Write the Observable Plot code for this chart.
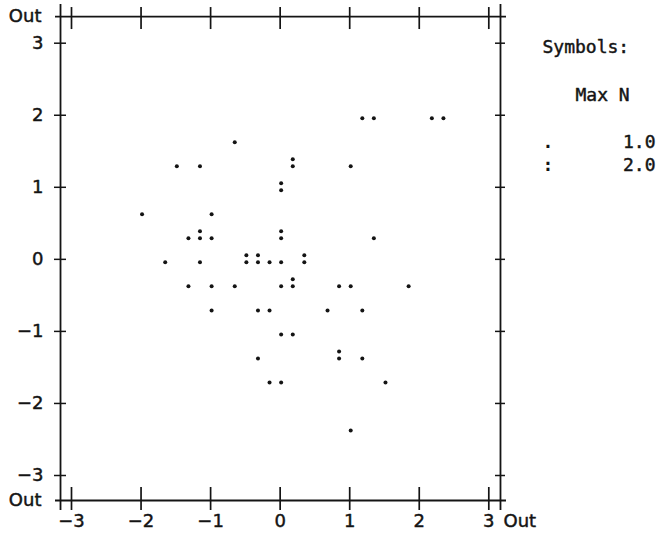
<!DOCTYPE html>
<html>
<head>
<meta charset="utf-8">
<script src="https://cdn.jsdelivr.net/npm/d3@7"></script>
<script src="https://cdn.jsdelivr.net/npm/@observablehq/plot@0.6"></script>
<style>
  html, body { margin: 0; padding: 0; background: #fff; }
</style>
</head>
<body>
<div id="chart"></div>
<script>
// ---- data ----
const px = [-0.667, -1.5, -1.167, 0.167, 0, -2, -1, -1.167, -1.333, -1, 0, -0.5, -0.333, -0.167, 0, 0.333, -1.667, -1.167,
            0.167, 0, -1.333, -1, -0.667, -1, -0.333, -0.167, 1.333, 0.833, 1, 1.833, 0.667, 1.167, 0, 0.167, -0.333,
            0.833, 1.167, -0.167, 0, 1.5, 1, 1.167, 1.333, 2.167, 2.333, 1];
const py = [1.667, 1.333, 1.333, 1.333, 1.0, 0.667, 0.667, 0.333, 0.333, 0.333, 0.333, 0, 0, 0, 0, 0, 0, 0,
            -0.333, -0.333, -0.333, -0.333, -0.333, -0.667, -0.667, -0.667, 0.333, -0.333, -0.333, -0.333, -0.667, -0.667, -1, -1, -1.333,
            -1.333, -1.333, -1.667, -1.667, -1.667, -2.333, 2, 2, 2, 2, 1.333];
const pn = [1, 1, 1, 2, 2, 1, 1, 2, 1, 1, 2, 2, 2, 1, 1, 2, 1, 1,
            2, 1, 1, 1, 1, 1, 1, 1, 1, 1, 1, 1, 1, 1, 1, 1, 1,
            2, 1, 1, 1, 1, 1, 1, 1, 1, 1, 1];

const xTicks = [-3, -2, -1, 0, 1, 2, 3];
const yTicks = [-3, -2, -1, 0, 1, 2, 3];
const tickLabels = ["\u22123", "\u22122", "\u22121", "0", "1", "2", "3"];
const xOut = [-3.158, 3.168];   // "Out" positions of the horizontal axis
const yOut = [-3.347, 3.37];    // "Out" positions of the vertical axis
const outLabel = "Out";

const legendTitle = "Symbols:";
const legendHeader = "Max N";
const legendSymbols = [".", ":"];
const legendValues = ["1.0", "2.0"];

// ---- build ----
const points = px.map((x, i) => ({x, y: py[i], n: pn[i]}));
const ink = "#141414";
const axisFont = "DejaVu Sans";
const monoFont = "DejaVu Sans Mono";
const legendRowDy = [92.3, 115.3];
const heavy = {stroke: ink, strokeWidth: 0.45};

const legendMarks = [
  Plot.text([legendTitle], {frameAnchor: "top-right", text: d => d, dx: 53.7, dy: -2.7, textAnchor: "start", fontFamily: monoFont, fontSize: 18, fill: ink, ...heavy}),
  Plot.text([legendHeader], {frameAnchor: "top-right", text: d => d, dx: 86.7, dy: 45.3, textAnchor: "start", fontFamily: monoFont, fontSize: 18, fill: ink, ...heavy})
];
legendValues.forEach((v, i) => {
  legendMarks.push(Plot.text([v], {frameAnchor: "top-right", text: d => d, dx: 166.7, dy: legendRowDy[i], textAnchor: "end", fontFamily: monoFont, fontSize: 18, fill: ink, ...heavy}));
  legendMarks.push(Plot.text([legendSymbols[i]], {frameAnchor: "top-right", text: d => d, dx: 59.2, dy: legendRowDy[i], textAnchor: "middle", fontFamily: monoFont, fontSize: 18, fontWeight: "bold", fill: ink}));
});

const chart = Plot.plot({
  width: 660,
  height: 534,
  marginLeft: 71,
  marginRight: 171.7,
  marginTop: 42.7,
  marginBottom: 59,
  style: {background: "#fff", fontFamily: axisFont, color: ink},
  x: {domain: [-3, 3], axis: null},
  y: {domain: [-3, 3], axis: null},
  marks: [
    // frame lines (Out positions), extending a little past the corners
    Plot.ruleY([yOut[1], yOut[0]], {x1: xOut[0], x2: xOut[1], insetLeft: -5, insetRight: -6, stroke: ink, strokeWidth: 1.8}),
    Plot.ruleX([xOut[0], xOut[1]], {y1: yOut[1], y2: yOut[0], insetTop: -12, insetBottom: -10, stroke: ink, strokeWidth: 1.8}),
    // ticks on top and bottom lines
    Plot.ruleX(xTicks, {x: d => d, y1: yOut[1], y2: yOut[1], insetTop: -9, insetBottom: -13, stroke: ink, strokeWidth: 1.7}),
    Plot.ruleX(xTicks, {x: d => d, y1: yOut[0], y2: yOut[0], insetTop: -13, insetBottom: -10, stroke: ink, strokeWidth: 1.7}),
    // ticks on left and right lines
    Plot.ruleY(yTicks, {y: d => d, x1: xOut[0], x2: xOut[0], insetLeft: -6, insetRight: -6, stroke: ink, strokeWidth: 1.5}),
    Plot.ruleY(yTicks, {y: d => d, x1: xOut[1], x2: xOut[1], insetLeft: -5, insetRight: -5, stroke: ink, strokeWidth: 1.5}),
    // y tick labels
    Plot.text(yTicks, {x: xOut[0], y: d => d, text: (d, i) => tickLabels[i], dx: -17, textAnchor: "end", fontSize: 18, fill: ink, ...heavy}),
    Plot.text(yOut, {x: xOut[0], y: d => d, text: () => outLabel, dx: -19, textAnchor: "end", fontSize: 18, fill: ink, ...heavy}),
    // x tick labels
    Plot.text(xTicks, {x: d => d, y: yOut[0], text: (d, i) => tickLabels[i], dy: 21, fontSize: 18, fill: ink, ...heavy}),
    Plot.text([xOut[1]], {x: d => d, y: yOut[0], text: () => outLabel, dx: 3, dy: 21, textAnchor: "start", fontSize: 18, fill: ink, ...heavy}),
    // points: lower dot for every case cell, upper dot for cells with 2 cases
    Plot.dot(points, {x: "x", y: "y", r: 2, fill: ink, dx: 1, dy: 3}),
    Plot.dot(points, {x: "x", y: "y", filter: d => d.n === 2, r: 2, fill: ink, dx: 1, dy: -4}),
    ...legendMarks
  ]
});
document.getElementById("chart").append(chart);
</script>
</body>
</html>
